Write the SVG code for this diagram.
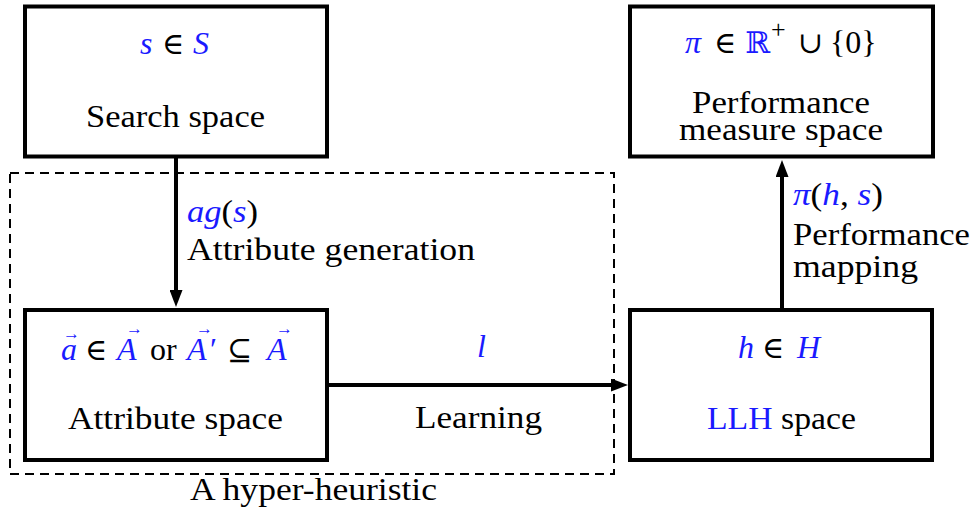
<svg xmlns="http://www.w3.org/2000/svg" width="976" height="519" viewBox="0 0 976 519">
  <style>
    .box { fill: #ffffff; stroke: #000000; stroke-width: 4; }
    .frame { fill: none; stroke: #000000; stroke-width: 2; stroke-dasharray: 9 6; }
    .edge { fill: none; stroke: #000000; stroke-width: 4; }
    text { font-family: "Liberation Serif", "DejaVu Serif", serif; font-size: 32px; fill: #000000; }
    .m { fill: #1a1aff; font-style: italic; }
    .b { fill: #1a1aff; }
    .op { font-family: "DejaVu Serif", "Liberation Serif", serif; font-size: 30px; }
    .vec { fill: #1a1aff; font-size: 17px; }
  </style>
  <defs>
    <marker id="arrow" markerUnits="userSpaceOnUse" viewBox="0 0 17 13" markerWidth="17" markerHeight="13" refX="4" refY="6.5" orient="auto">
      <path d="M0,0 L17,6.5 L0,13 Z" fill="#000000"/>
    </marker>
  </defs>

  <!-- hyper-heuristic frame -->
  <g id="hyper-heuristic">
    <rect class="frame" x="10" y="173" width="604" height="301"/>
    <text x="190" y="500" textLength="247" lengthAdjust="spacingAndGlyphs">A hyper-heuristic</text>
  </g>

  <g id="connectors">
    <line class="edge" x1="176" y1="157" x2="176" y2="294" marker-end="url(#arrow)"/>
    <line class="edge" x1="327" y1="385" x2="615" y2="385" marker-end="url(#arrow)"/>
    <line class="edge" x1="782" y1="309" x2="782" y2="173" marker-end="url(#arrow)"/>
    <text x="187" y="222" textLength="71" lengthAdjust="spacingAndGlyphs"><tspan class="m">ag</tspan>(<tspan class="m">s</tspan>)</text>
    <text x="187" y="260" textLength="288" lengthAdjust="spacingAndGlyphs">Attribute generation</text>
    <text class="m" x="477" y="357">l</text>
    <text x="415" y="428" textLength="127" lengthAdjust="spacingAndGlyphs">Learning</text>
    <text x="793" y="205" textLength="90" lengthAdjust="spacingAndGlyphs"><tspan class="m">π</tspan>(<tspan class="m">h</tspan>, <tspan class="m">s</tspan>)</text>
    <text x="793" y="245" textLength="177" lengthAdjust="spacingAndGlyphs">Performance</text>
    <text x="793" y="277" textLength="125" lengthAdjust="spacingAndGlyphs">mapping</text>
  </g>

  <g id="search-space">
    <rect class="box" x="25" y="6.5" width="302" height="150"/>
    <text y="54"><tspan class="m" x="140">s</tspan><tspan class="op" x="162">∈</tspan><tspan class="m" x="193">S</tspan></text>
    <text x="86" y="127" textLength="179" lengthAdjust="spacingAndGlyphs">Search space</text>
  </g>

  <g id="performance-measure-space">
    <rect class="box" x="630" y="6.5" width="303" height="150"/>
    <text y="53"><tspan class="m" x="685">π</tspan><tspan class="op" x="714">∈</tspan><tspan class="b op" x="745">ℝ</tspan><tspan font-size="26" x="771" y="38">+</tspan><tspan class="op" x="798" y="53">∪</tspan><tspan x="830">{0}</tspan></text>
    <text x="692" y="113" textLength="178" lengthAdjust="spacingAndGlyphs">Performance</text>
    <text x="679" y="140" textLength="204" lengthAdjust="spacingAndGlyphs">measure space</text>
  </g>

  <g id="attribute-space">
    <rect class="box" x="25" y="310" width="302" height="150"/>
    <text y="360"><tspan class="m" x="61">a</tspan><tspan class="vec" x="63" y="339">→</tspan><tspan class="op" x="85" y="360">∈</tspan><tspan class="m" x="117">A</tspan><tspan class="vec" x="126" y="334">→</tspan><tspan x="150" y="360">or</tspan><tspan class="m" x="187">A</tspan><tspan class="vec" x="196" y="334">→</tspan><tspan class="b" x="210" y="360">′</tspan><tspan class="op" x="227">⊆</tspan><tspan class="m" x="267">A</tspan><tspan class="vec" x="276" y="334">→</tspan></text>
    <text x="68" y="429" textLength="215" lengthAdjust="spacingAndGlyphs">Attribute space</text>
  </g>

  <g id="llh-space">
    <rect class="box" x="630" y="310" width="302" height="150"/>
    <text y="358"><tspan class="m" x="738">h</tspan><tspan class="op" x="762">∈</tspan><tspan class="m" x="797">H</tspan></text>
    <text x="707" y="429" textLength="149" lengthAdjust="spacingAndGlyphs"><tspan class="b">LLH</tspan> space</text>
  </g>
</svg>
